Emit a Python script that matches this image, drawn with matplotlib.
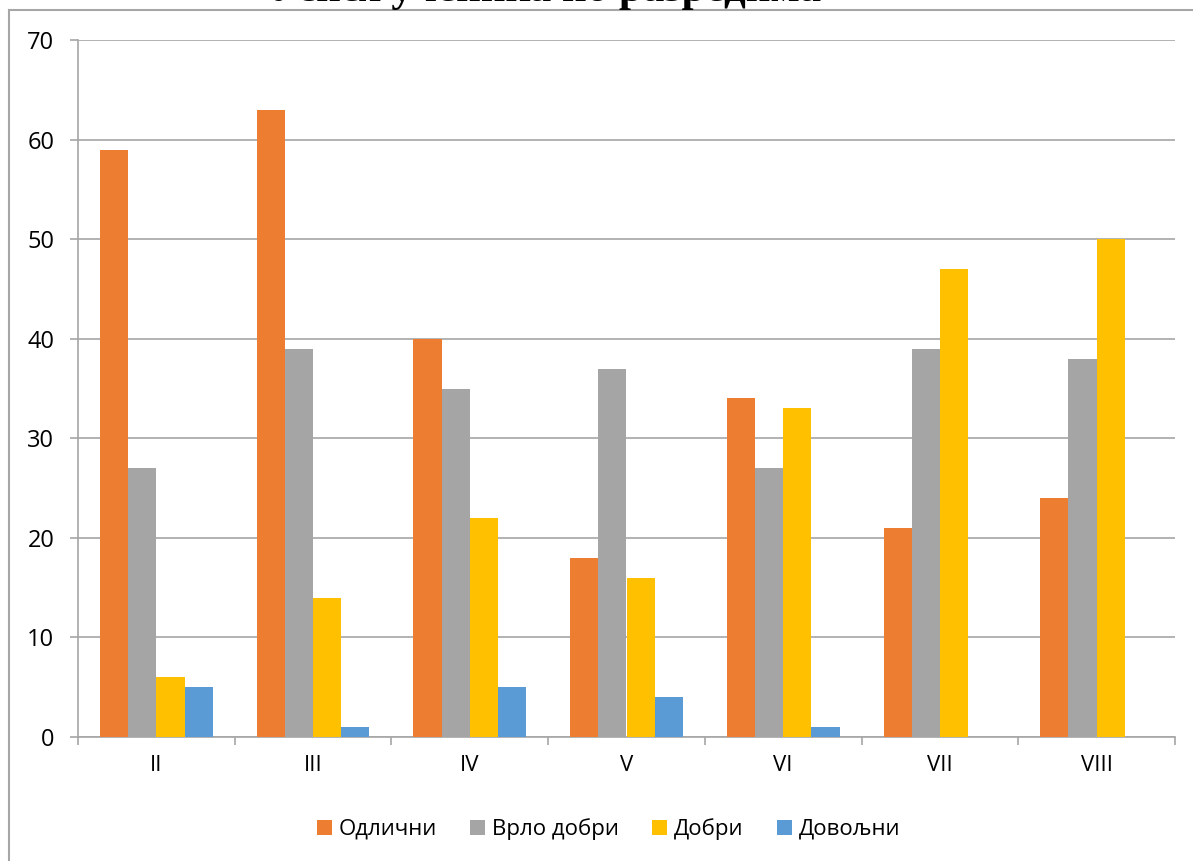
import matplotlib.pyplot as plt
from matplotlib.lines import Line2D
import numpy as np

plt.rcParams["font.family"] = ["Open Sans", "DejaVu Sans"]

categories = ["II", "III", "IV", "V", "VI", "VII", "VIII"]
series_names = ["Одлични", "Врло добри", "Добри", "Довољни"]
odlicni = [59, 63, 40, 18, 34, 21, 24]
vrlo_dobri = [27, 39, 35, 37, 27, 39, 38]
dobri = [6, 14, 22, 16, 33, 47, 50]
dovoljni = [5, 1, 5, 4, 1, 0, 0]
yticks = [0, 10, 20, 30, 40, 50, 60, 70]

COLORS = ["#ED7D31", "#A5A5A5", "#FFC000", "#5B9BD5"]
GRID = "#A6A6A6"

W, H = 1193, 861
fig = plt.figure(figsize=(W / 100, H / 100), dpi=100)
ax = fig.add_axes([78 / W, 1 - 737 / H, (1175 - 78) / W, (737 - 40) / H])

x = np.arange(len(categories))
bar_w = 0.18
for i, (vals, name) in enumerate(zip([odlicni, vrlo_dobri, dobri, dovoljni], series_names)):
    ax.bar(x + (i - 1.5) * bar_w, vals, width=bar_w, color=COLORS[i], label=name, zorder=3)

ax.set_xlim(-0.5, len(categories) - 0.5)
ax.set_ylim(0, 70)
ax.set_yticks(yticks)
ax.set_xticks(x)
ax.set_xticklabels(categories)
ax.set_xticks(np.arange(len(categories) + 1) - 0.5, minor=True)
ax.tick_params(axis="x", which="major", length=0, labelsize=16, pad=13)
ax.tick_params(axis="x", which="minor", length=6, color=GRID, width=1.2)
ax.tick_params(axis="y", length=6, color=GRID, width=1.2, labelsize=17, pad=11)
ax.grid(axis="y", color=GRID, linewidth=1.2, zorder=0)
for s in ["top", "right"]:
    ax.spines[s].set_visible(False)
ax.spines["left"].set_color(GRID)
ax.spines["bottom"].set_color(GRID)
ax.spines["left"].set_linewidth(1.2)
ax.spines["bottom"].set_linewidth(1.2)

fig.legend(loc="center", bbox_to_anchor=(0.51, 1 - 829 / H), ncol=4, frameon=False,
           fontsize=16, handlelength=0.68, handleheight=0.68, handletextpad=0.3,
           columnspacing=1.5)

# outer chart border (top and left visible)
fig.add_artist(Line2D([9 / W, 9 / W], [0, 1 - 10 / H], color=GRID, linewidth=1.5,
                      transform=fig.transFigure))
fig.add_artist(Line2D([9 / W, 1], [1 - 10 / H, 1 - 10 / H], color=GRID, linewidth=1.5,
                      transform=fig.transFigure))

# title, mostly cut off by the top edge as in the source image
fig.text(270 / W, 1 - 1 / H, "Успех ученика по разредима", fontsize=31,
         fontweight="bold", family="Liberation Serif", va="baseline", ha="left")

fig.savefig("out.png", dpi=100, facecolor="white")
